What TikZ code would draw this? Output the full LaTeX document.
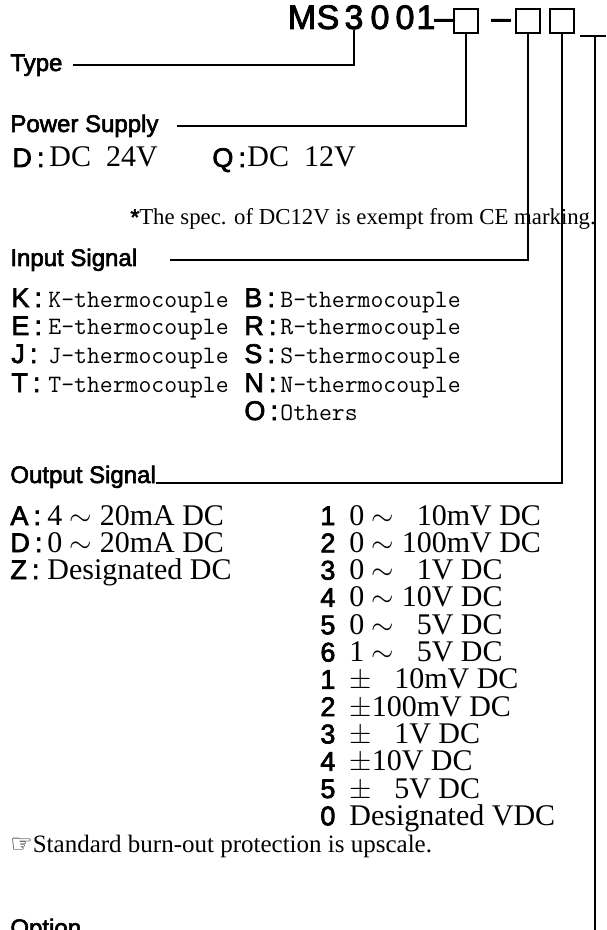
\documentclass[tikz,border=0pt]{standalone}
\usepackage{fontspec}
\setmainfont{Liberation Serif}
\newfontfamily\gothic{Liberation Sans}[FakeBold=2.5]
\newfontfamily\symfont{DejaVu Sans}
\tikzset{
  head/.style={anchor=base west, inner sep=0pt, font=\gothic\fontsize{12}{14}\selectfont},
  key/.style={anchor=base west, inner sep=0pt, font=\gothic\fontsize{13.5}{15}\selectfont},
  val/.style={anchor=base west, inner sep=0pt, font=\fontsize{15}{17}\selectfont},
  tc/.style={anchor=base west, inner sep=0pt, font=\ttfamily\fontsize{12.5}{15}\selectfont},
  note/.style={anchor=base west, inner sep=0pt, font=\fontsize{11.4}{13}\selectfont},
  code/.style={anchor=base, inner sep=0pt, font=\gothic\fontsize{17}{19}\selectfont},
  slot/.style={draw, line width=1pt, minimum width=12pt, minimum height=12pt, inner sep=0pt},
  lead/.style={line width=1pt},
}
\begin{document}
\begin{tikzpicture}[x=0.5pt,y=-0.5pt]
    \useasboundingbox (0,0) rectangle (606,930);
    % model code
    \foreach \c/\x [count=\i] in {M/302,S/328,3/354,0/380,0/405,1/426,–/444}
        \node[code] (t\i) at (\x,29) {\c};
    \node[slot] (pwr) at (466,21) {};
    \node[code] (dash) at (501,29) {–};
    \node[slot] (inp) at (527.5,21) {};
    \node[slot] (outp) at (562,21) {};
    \coordinate (optl) at (580,36);
    \coordinate (optr) at (606,36);
    \coordinate (optv) at (595,36);
    \coordinate (optend) at (595,930);
    % headings
    \node[head] (type) at (10,71) {Type};
    \node[head] (power) at (10,132) {Power Supply};
    \node[head] (input) at (10,266) {Input Signal};
    \node[head] (output) at (10,483) {Output Signal};
    \node[head] (option) at (10,936) {Option};
    % leads
    \draw[lead] (t3.south) |- ([xshift=5pt]type.east);
    \draw[lead] (pwr.south) |- ([xshift=9pt]power.east);
    \draw[lead] (inp.south) |- ([xshift=16pt]input.east);
    \draw[lead] (outp.south) |- (output.base east);
    \draw[lead] (optl) -- (optr);
    \draw[lead] (optv) -- (optend);
    % power supply
    \node[key] (kd) at (12,167) {D\hspace{2.5pt}:};
    \node[val] (vd) at (49,167) {DC\ \ 24V};
    \node[key] (kq) at (212,167) {Q\hspace{2.5pt}:};
    \node[val] (vq) at (247,167) {DC\ \ 12V};
    \node[note] (ce) at (130,225) {{\gothic *}The spec. of DC12V is exempt from CE marking.};
    % input signal
    \foreach \k/\y [count=\i] in {K/307,E/335,J/363,T/392} {
        \node[key] (ki\i) at (11,\y) {\k\hspace{2.5pt}:};
        \node[tc] (vi\i) at (48,\y) {\k-thermocouple};
    }
    \foreach \k/\y [count=\i] in {B/307,R/335,S/363,N/392} {
        \node[key] (kj\i) at (244,\y) {\k\hspace{2.5pt}:};
        \node[tc] (vj\i) at (280,\y) {\k-thermocouple};
    }
    \node[key] (kj5) at (244,420) {O\hspace{2.5pt}:};
    \node[tc] (vj5) at (280,420) {Others};
    % output signal
    \node[key] (ka) at (10,525) {A\hspace{2.5pt}:};
    \node[val] (va) at (47,525) {4 $\sim$ 20mA DC};
    \node[key] (kdd) at (10,552) {D\hspace{2.5pt}:};
    \node[val] (vdd) at (47,552) {0 $\sim$ 20mA DC};
    \node[key] (kz) at (10,579) {Z\hspace{2.5pt}:};
    \node[val] (vz) at (47,579) {Designated DC};
    \foreach \n/\txt [count=\i] in {
        1/{0 $\sim$ \phantom{1}10mV DC}, 2/{0 $\sim$ 100mV DC},
        3/{0 $\sim$ \phantom{1}1V DC}, 4/{0 $\sim$ 10V DC},
        5/{0 $\sim$ \phantom{1}5V DC}, 6/{1 $\sim$ \phantom{1}5V DC},
        1/{$\pm$ \phantom{1}10mV DC}, 2/{$\pm$100mV DC},
        3/{$\pm$ \phantom{1}1V DC}, 4/{$\pm$10V DC},
        5/{$\pm$ \phantom{1}5V DC}, 0/{Designated VDC}} {
        \node[key] (kn\i) at (320,{525+27.3*(\i-1)}) {\n};
        \node[val] (vn\i) at (349,{525+27.3*(\i-1)}) {\txt};
    }
    \node[val, font=\fontsize{12.5}{14}\selectfont] (burn) at (10,852) {{\symfont ☞}Standard burn-out protection is upscale.};
\end{tikzpicture}
\end{document}
